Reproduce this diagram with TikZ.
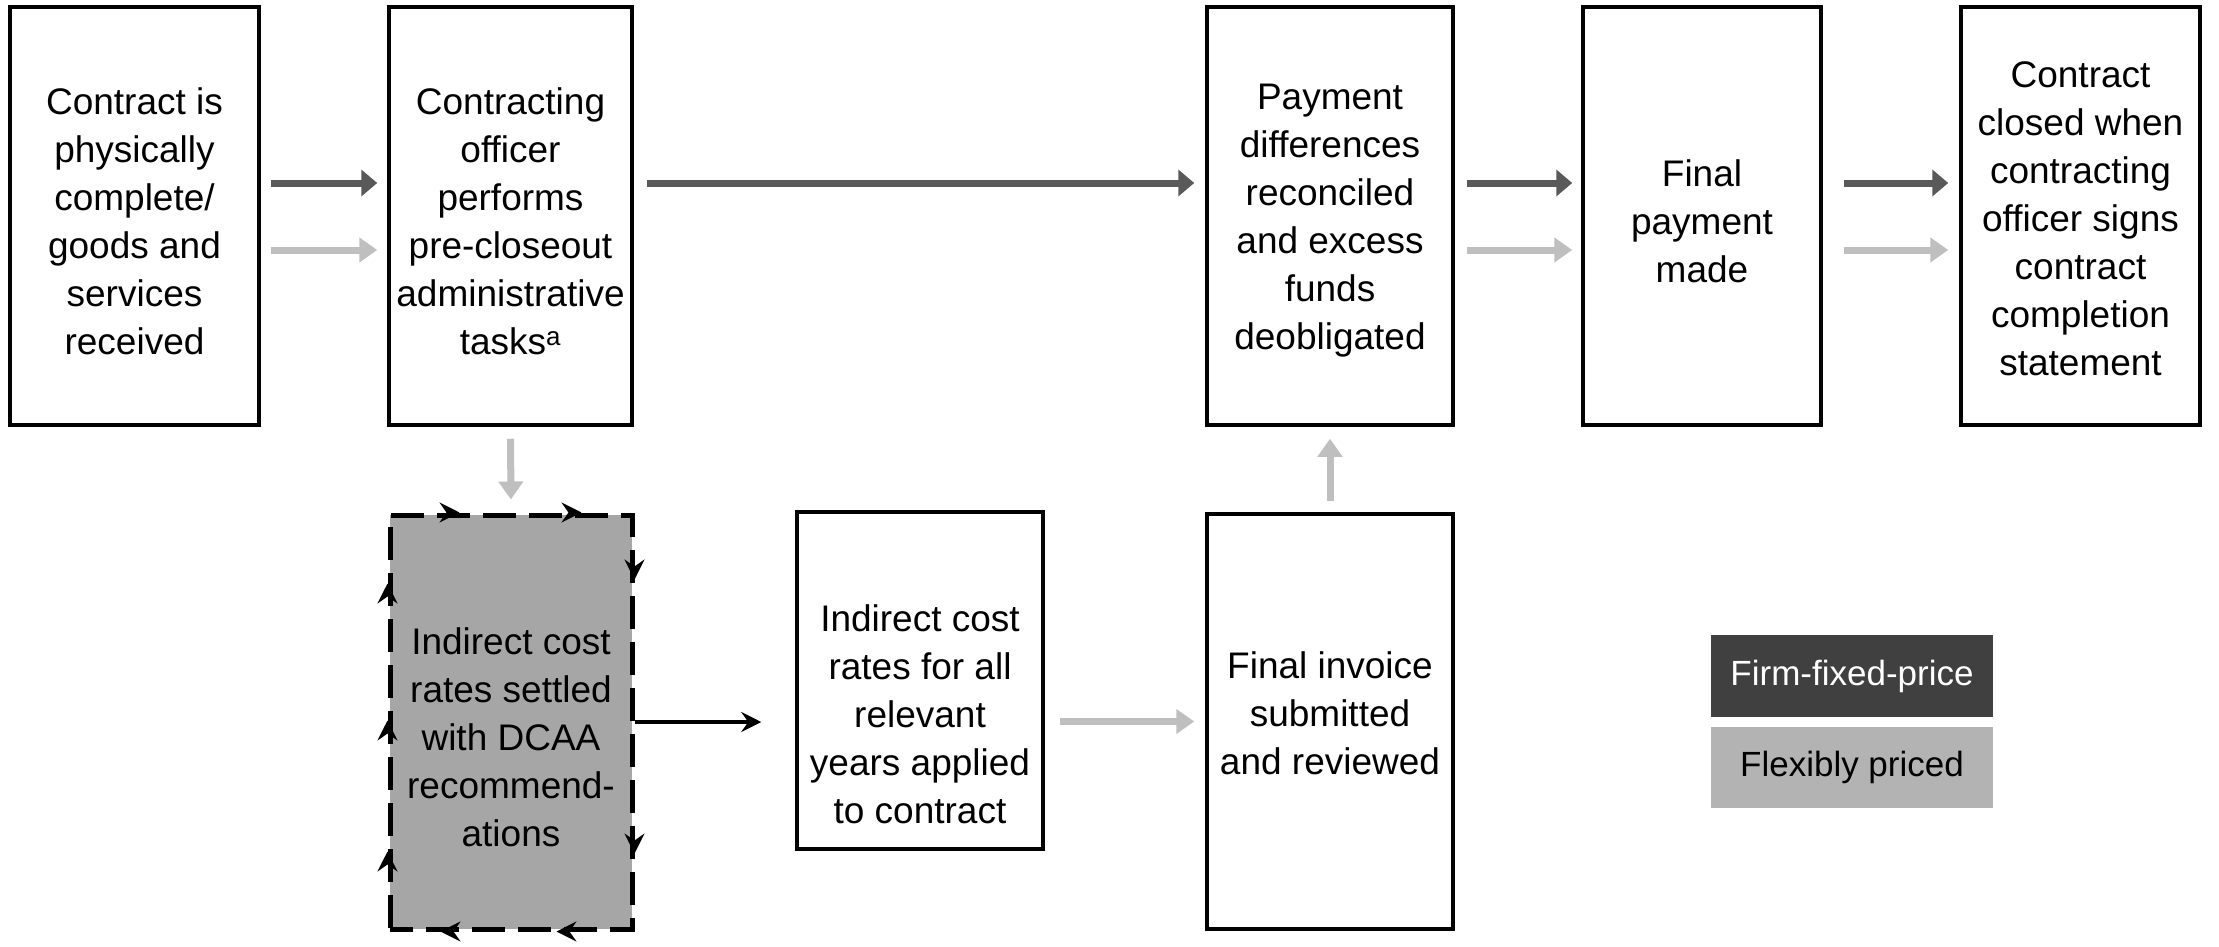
\documentclass[tikz,border=0pt]{standalone}
\usepackage{fontspec}
\setmainfont{Liberation Sans}
\usetikzlibrary{arrows.meta,decorations.markings}
\definecolor{darkarrow}{HTML}{595959}
\definecolor{lightarrow}{HTML}{BFBFBF}
\definecolor{dashfill}{HTML}{A6A6A6}
\definecolor{legdark}{HTML}{404040}
\definecolor{leglight}{HTML}{B3B3B3}
\begin{document}
\begin{tikzpicture}[x=1pt,y=-1pt,
  box/.style={draw=black, line width=3.5pt, inner sep=0pt, fill=white},
  dbox/.style={draw=black, line width=5pt, inner sep=0pt, fill=dashfill, dash pattern=on 33pt off 13pt, dash phase=10pt},
  txt/.style={align=center, inner sep=0pt, font=\fontsize{37}{48}\selectfont},
  legbox/.style={inner sep=0pt, minimum width=282pt, font=\fontsize{35}{42}\selectfont},
  darr/.style={draw=darkarrow, line width=7pt, -{Triangle[length=16pt,width=26pt]}},
  larr/.style={draw=lightarrow, line width=7pt, -{Triangle[length=18pt,width=24pt]}},
  blk/.style={draw=black, line width=4pt, -{Stealth[length=20pt,width=20pt,inset=7pt]}},
  looptip/.tip={Stealth[length=20pt,width=20pt,inset=7pt,line width=2.5pt]}
]
\useasboundingbox (0,0) rectangle (2219,947);

% top row boxes
\node[box, minimum width=249pt, minimum height=418pt] (b1) at (134.5,216) {};
\node[box, minimum width=243pt, minimum height=418pt] (b2) at (510.5,216) {};
\node[box, minimum width=246pt, minimum height=418pt] (b3) at (1330,216) {};
\node[box, minimum width=238pt, minimum height=418pt] (b4) at (1702,216) {};
\node[box, minimum width=239pt, minimum height=418pt] (b5) at (2080.5,216) {};

% bottom row boxes
\node[dbox, minimum width=242pt, minimum height=414pt] (d) at (511,722) {};
\node[box, minimum width=246pt, minimum height=337pt] (b6) at (920,680.5) {};
\node[box, minimum width=246pt, minimum height=415pt] (b7) at (1330,721.5) {};

% texts
\node[txt] (t1) at (134.5,221) {Contract is\\physically\\complete/\\goods and\\services\\received};
\node[txt] (t2) at (510.5,221) {Contracting\\officer\\performs\\pre-closeout\\administrative\\tasks\textsuperscript{a}};
\node[txt] (t3) at (1330,221) {Payment\\differences\\reconciled\\and excess\\funds\\deobligated};
\node[txt] (t4) at (1702,221) {Final\\payment\\made};
\node[txt] (t5) at (2080.5,219) {Contract\\closed when\\contracting\\officer signs\\contract\\completion\\statement};
\node[txt] (td) at (511,737) {Indirect cost\\rates settled\\with DCAA\\recommend-\\ations};
\node[txt] (t6) at (920,714) {Indirect cost\\rates for all\\relevant\\years applied\\to contract};
\node[txt] (t7) at (1330,713) {Final invoice\\submitted\\and reviewed};

% legend
\node[legbox, fill=legdark, text=white, minimum height=82pt] (l1) at (1852,676) {Firm-fixed-price};
\node[legbox, fill=leglight, text=black, minimum height=81pt] (l2) at (1852,767.5) {Flexibly priced};

% loop arrows on dashed box
\path[draw=none, line width=2.5pt, postaction={decorate}, decoration={markings,
  mark=at position 72pt with {\arrow[black]{looptip}},
  mark=at position 194pt with {\arrow[black]{looptip}},
  mark=at position 314pt with {\arrow[black]{looptip}},
  mark=at position 588pt with {\arrow[black]{looptip}},
  mark=at position 744pt with {\arrow[black]{looptip}},
  mark=at position 860pt with {\arrow[black]{looptip}},
  mark=at position 993pt with {\arrow[black]{looptip}},
  mark=at position 1124pt with {\arrow[black]{looptip}},
  mark=at position 1261pt with {\arrow[black]{looptip}}}]
  (d.north west) -- (d.north east) -- (d.south east) -- (d.south west) -- cycle;

% connectors top row
\draw[darr, shorten <=10pt, shorten >=10pt] ([yshift=33pt]b1.east) -- ([yshift=33pt]b2.west);
\draw[larr, shorten <=10pt, shorten >=10pt] ([yshift=-34pt]b1.east) -- ([yshift=-34pt]b2.west);
\draw[darr, shorten <=13pt, shorten >=11pt] ([yshift=33pt]b2.east) -- ([yshift=33pt]b3.west);
\draw[darr, shorten <=12pt, shorten >=9pt] ([yshift=33pt]b3.east) -- ([yshift=33pt]b4.west);
\draw[larr, shorten <=12pt, shorten >=9pt] ([yshift=-34pt]b3.east) -- ([yshift=-34pt]b4.west);
\draw[darr, shorten <=21pt, shorten >=11pt] ([yshift=33pt]b4.east) -- ([yshift=33pt]b5.west);
\draw[larr, shorten <=21pt, shorten >=11pt] ([yshift=-34pt]b4.east) -- ([yshift=-34pt]b5.west);

% vertical connectors
\draw[larr, shorten <=12pt, shorten >=13pt] (b2.south) -- (d.north);
\draw[larr, shorten <=11pt, shorten >=12pt] (b7.north) -- (b3.south);

% bottom connectors
\draw[blk, shorten >=34pt] (d.east) -- (d.east -| b6.west);
\draw[larr, shorten <=15pt, shorten >=11pt] (b6.east |- b7.west) -- (b7.west);
\end{tikzpicture}
\end{document}
